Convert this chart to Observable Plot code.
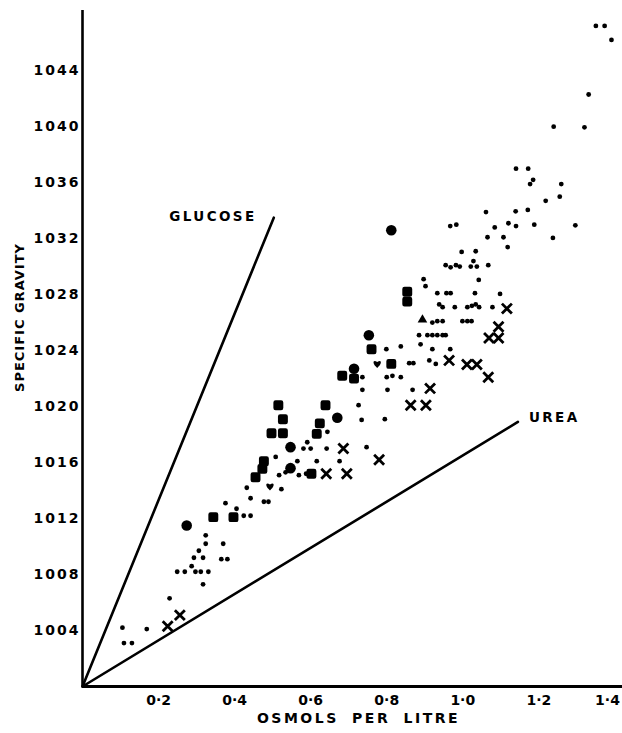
<!DOCTYPE html>
<html>
<head>
<meta charset="utf-8">
<script src="https://cdn.jsdelivr.net/npm/d3@7"></script>
<script src="https://cdn.jsdelivr.net/npm/@observablehq/plot@0.6"></script>
<style>
  html, body { margin: 0; padding: 0; background: #fff; }
  #chart svg { display: block; }
  #chart g[aria-label="y-axis tick label"] text { letter-spacing: 2px; }
</style>
</head>
<body>
<div id="chart"></div>
<script>
// ---- Data (osmols per litre, specific gravity) ----
const smallDots = [
  [1.350,1047.2],[1.373,1047.2],[1.391,1046.2],[1.331,1042.3],[1.239,1040.0],[1.320,1039.95],
  [1.140,1037.0],[1.172,1037.0],[1.185,1036.2],[1.177,1035.9],[1.259,1035.9],[1.255,1035.0],
  [1.218,1034.7],[1.061,1033.9],[1.139,1033.95],[1.171,1034.05],[0.967,1032.9],[0.983,1033.0],
  [1.084,1032.8],[1.120,1033.1],[1.140,1032.9],[1.188,1033.0],[1.296,1032.95],[1.065,1032.1],
  [1.107,1032.1],[1.237,1032.05],[1.118,1031.4],[0.997,1031.05],[1.034,1031.1],
  [0.955,1030.1],[0.968,1029.95],[0.982,1030.1],[0.992,1030.0],[1.021,1030.0],[1.028,1030.4],
  [1.037,1030.0],[1.067,1030.1],[0.897,1029.1],[0.902,1028.6],[1.042,1029.05],
  [0.933,1028.1],[0.957,1028.1],[0.968,1028.1],[1.032,1028.1],[1.098,1028.05],
  [0.938,1027.3],[0.947,1027.1],[0.979,1027.1],[1.012,1027.1],[1.024,1027.2],[1.034,1027.3],
  [1.043,1027.1],[1.078,1027.1],[0.920,1026.0],[0.933,1026.1],[0.947,1026.1],[0.999,1026.1],
  [1.012,1026.1],[1.023,1026.1],[0.885,1025.1],[0.907,1025.1],[0.920,1025.1],[0.933,1025.1],
  [0.947,1025.1],[0.955,1025.1],[0.889,1024.45],[0.920,1024.1],[0.967,1024.1],[0.837,1024.3],
  [0.859,1023.1],[0.870,1023.1],[0.912,1023.3],[0.929,1023.05],[0.837,1022.1],[0.868,1021.2],
  [0.799,1024.1],[0.800,1022.1],[0.815,1022.2],[0.736,1021.2],[0.802,1021.2],[0.736,1022.1],
  [0.726,1020.1],[0.734,1019.05],[0.795,1019.1],[0.644,1018.2],[0.591,1017.45],[0.581,1017.0],
  [0.600,1017.0],[0.642,1017.0],[0.747,1017.1],[0.676,1016.1],[0.616,1016.1],[0.565,1016.1],
  [0.508,1016.4],[0.534,1015.3],[0.517,1015.1],[0.569,1015.1],[0.588,1015.2],[0.432,1014.2],
  [0.523,1014.1],[0.442,1013.45],[0.477,1013.2],[0.489,1013.2],[0.405,1012.7],[0.424,1012.2],
  [0.442,1012.2],[0.376,1013.1],[0.324,1010.8],[0.324,1010.2],[0.306,1009.7],[0.293,1009.2],
  [0.317,1009.2],[0.370,1010.2],[0.365,1009.1],[0.381,1009.1],[0.287,1008.6],[0.249,1008.2],
  [0.269,1008.2],[0.297,1008.2],[0.311,1008.2],[0.331,1008.2],[0.317,1007.3],[0.229,1006.3],
  [0.105,1004.2],[0.169,1004.1],[0.109,1003.1],[0.130,1003.1]
];
const crosses = [
  [1.116,1027.0],[1.094,1025.7],[1.069,1024.9],[1.094,1024.9],[0.964,1023.3],[1.011,1023.0],
  [1.037,1023.0],[1.067,1022.1],[0.914,1021.3],[0.863,1020.1],[0.903,1020.1],[0.686,1017.0],
  [0.780,1016.2],[0.641,1015.2],[0.695,1015.2],[0.256,1005.1],[0.224,1004.3]
];
const bigCircles = [
  [0.812,1032.6],[0.753,1025.1],[0.714,1022.7],[0.670,1019.2],[0.547,1017.1],[0.547,1015.6],[0.274,1011.5]
];
const squares = [
  [0.854,1028.2],[0.854,1027.5],[0.760,1024.1],[0.812,1023.05],[0.683,1022.2],[0.714,1022.0],
  [0.515,1020.1],[0.527,1019.1],[0.497,1018.1],[0.527,1018.1],[0.639,1020.1],[0.624,1018.8],
  [0.616,1018.05],[0.477,1016.1],[0.473,1015.55],[0.455,1014.95],[0.602,1015.2],[0.344,1012.1],[0.397,1012.1]
];
const triangles = [[0.894,1026.2]];
const hearts = [[0.775,1023.05],[0.493,1014.3]];

const glucoseLine = [[0,1000],[0.503,1033.5]];
const ureaLine = [[0,1000],[1.145,1018.9]];
const glucoseLabel = [{x: 0.343, y: 1033.6, text: "GLUCOSE"}];
const ureaLabel = [{x: 1.174, y: 1019.2, text: "UREA"}];

const xTicks = [0.2, 0.4, 0.6, 0.8, 1.0, 1.2];
const xTicksEdge = [1.4];
const yTicks = [1004, 1008, 1012, 1016, 1020, 1024, 1028, 1032, 1036, 1040, 1044];
const xTitle = "OSMOLS PER LITRE";
const yTitle = "SPECIFIC GRAVITY";

// ---- custom symbols ----
const roundSquare = {
  draw(ctx, size) {
    const s = Math.sqrt(size) / 2, r = s * 0.45;
    ctx.moveTo(-s + r, -s);
    ctx.lineTo(s - r, -s); ctx.arcTo(s, -s, s, -s + r, r);
    ctx.lineTo(s, s - r); ctx.arcTo(s, s, s - r, s, r);
    ctx.lineTo(-s + r, s); ctx.arcTo(-s, s, -s, s - r, r);
    ctx.lineTo(-s, -s + r); ctx.arcTo(-s, -s, -s + r, -s, r);
    ctx.closePath();
  }
};
const heart = {
  draw(ctx, size) {
    const s = Math.sqrt(size) / 2;
    ctx.moveTo(0, s);
    ctx.bezierCurveTo(-s * 1.3, -s * 0.1, -s * 1.1, -s * 1.2, 0, -s * 0.45);
    ctx.bezierCurveTo(s * 1.1, -s * 1.2, s * 1.3, -s * 0.1, 0, s);
    ctx.closePath();
  }
};

const font = "'DejaVu Sans', sans-serif";
const fmtX = d => d.toFixed(1).replace(".", "·");

const chart = Plot.plot({
  width: 622,
  height: 733,
  marginLeft: 82,
  marginRight: 0,
  marginTop: 10,
  marginBottom: 47,
  x: {domain: [0, 1.42]},
  y: {domain: [1000, 1048.3]},
  style: {fontFamily: font, fontWeight: "bold", fontSize: "14px", color: "black", background: "white"},
  marks: [
    Plot.axisX({ticks: xTicks, tickSize: 0, tickPadding: 9, label: null,
      tickFormat: fmtX, fontSize: 14, fontWeight: "bold"}),
    Plot.axisX({ticks: xTicksEdge, tickSize: 0, tickPadding: 9, label: null,
      tickFormat: fmtX, fontSize: 14, fontWeight: "bold", textAnchor: "end", dx: 5}),
    Plot.axisY({ticks: yTicks, tickSize: 0, tickPadding: 2, label: null,
      tickFormat: d => String(d), fontSize: 14, fontWeight: "bold"}),
    Plot.ruleX([0], {stroke: "black", strokeWidth: 2.6}),
    Plot.ruleY([1000], {stroke: "black", strokeWidth: 2.8}),
    Plot.line(glucoseLine, {x: d => d[0], y: d => d[1], stroke: "black", strokeWidth: 2.6}),
    Plot.line(ureaLine, {x: d => d[0], y: d => d[1], stroke: "black", strokeWidth: 2.6}),
    Plot.text(glucoseLabel, {x: "x", y: "y", text: "text", textAnchor: "middle",
      fontSize: 13.5, fontWeight: "bold", fill: "black"}),
    Plot.text(ureaLabel, {x: "x", y: "y", text: "text", textAnchor: "start",
      fontSize: 13.5, fontWeight: "bold", fill: "black"}),
    Plot.dot(smallDots, {x: d => d[0], y: d => d[1], r: 2.4, fill: "black", stroke: "none"}),
    Plot.dot(bigCircles, {x: d => d[0], y: d => d[1], r: 5.3, fill: "black", stroke: "none"}),
    Plot.dot(squares, {x: d => d[0], y: d => d[1], r: 5.6, symbol: roundSquare, fill: "black", stroke: "none"}),
    Plot.dot(triangles, {x: d => d[0], y: d => d[1], r: 4.6, symbol: "triangle2", fill: "black", stroke: "none"}),
    Plot.dot(hearts, {x: d => d[0], y: d => d[1], r: 4.6, symbol: heart, fill: "black", stroke: "none"}),
    Plot.dot(crosses, {x: d => d[0], y: d => d[1], r: 4.6, symbol: "times", stroke: "black", strokeWidth: 2.8, fill: "none"}),
    Plot.text([xTitle], {frameAnchor: "bottom", lineAnchor: "middle", textAnchor: "middle", dy: 32, dx: 6,
      text: d => d, fontSize: 14, fontWeight: "bold", fill: "black"}),
    Plot.text([yTitle], {frameAnchor: "left", textAnchor: "middle", lineAnchor: "middle", dx: -63, dy: -31, rotate: -90,
      text: d => d, fontSize: 13, fontWeight: "bold", fill: "black"})
  ]
});

// letter spacing of the wide lettering (style only)
const spacing = {"GLUCOSE": 2.4, "UREA": 2.4, [xTitle]: 2.5, [yTitle]: 1};
d3.select(chart).selectAll("text").each(function () {
  const t = this.textContent;
  if (t in spacing) {
    this.style.letterSpacing = spacing[t] + "px";
    if (t === xTitle) this.style.wordSpacing = "6px";
  }
});
document.getElementById("chart").appendChild(chart);
</script>
</body>
</html>
